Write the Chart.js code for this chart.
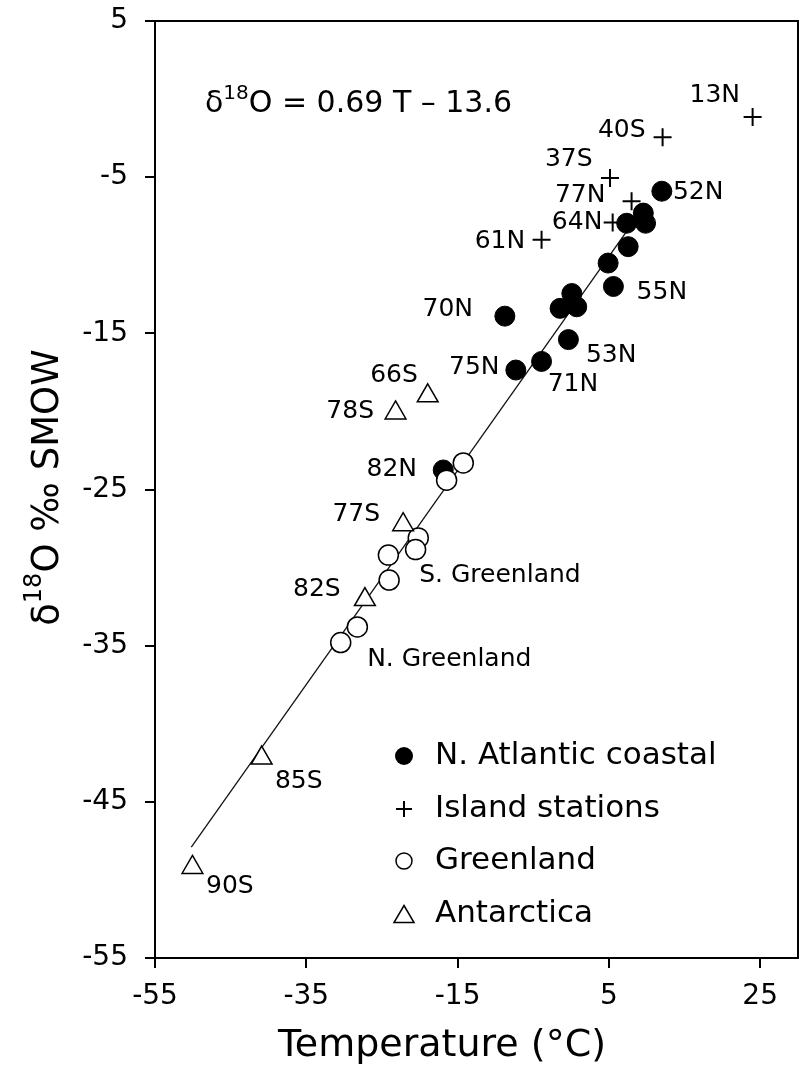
<!DOCTYPE html>
<html>
<head>
<meta charset="utf-8">
<script src="https://cdn.jsdelivr.net/npm/chart.js@4.4.0/dist/chart.umd.min.js"></script>
<style>
  html, body { margin: 0; padding: 0; background: #fff; }
  #wrap { width: 802px; height: 1070px; }
</style>
</head>
<body>
<div id="wrap"><canvas id="isoChart" width="802" height="1070"></canvas></div>
<script>
// Axis ticks
const xTicks = [-55, -35, -15, 5, 25];
const yTicks = [-55, -45, -35, -25, -15, -5, 5];

// N. Atlantic coastal (filled circles): temperature, delta 18O
const coastalT = [12.0, 7.35, 9.55, 9.85, 7.55, 4.9, 5.6, 0.1, -1.45, 0.75, -8.75, -0.35, -3.9, -7.3, -16.9];
const coastalD = [-5.9, -7.95, -7.3, -7.95, -9.45, -10.5, -12.0, -12.45, -13.4, -13.3, -13.9, -15.4, -16.8, -17.35, -23.75];

// Island stations (plus)
const islandT = [24.0, 12.1, 5.15, 8.0, 5.5, -3.9];
const islandD = [-1.15, -2.45, -5.05, -6.55, -7.9, -9.0];

// Greenland (open circles)
const greenlandT = [-14.25, -16.45, -20.2, -20.55, -24.15, -24.05, -28.25, -30.45];
const greenlandD = [-23.3, -24.4, -28.1, -28.85, -29.2, -30.8, -33.8, -34.8];

// Antarctica (triangles)
const antarcticaT = [-18.95, -23.2, -22.2, -27.25, -40.9, -50.05];
const antarcticaD = [-19.0, -20.1, -27.25, -32.05, -42.2, -49.2];

// Regression line end points, as drawn
const fitT = [-50.2, 9.5];
const fitD = [-47.9, -7.0];

// Site labels placed in data units
const siteLabels = [
    { text: '13N', x: 19.0, y: 0.25 },
    { text: '40S', x: 6.7, y: -2.0 },
    { text: '37S', x: -0.3, y: -3.9 },
    { text: '77N', x: 1.2, y: -6.15 },
    { text: '64N', x: 0.8, y: -7.9 },
    { text: '52N', x: 16.8, y: -6.0 },
    { text: '61N', x: -9.4, y: -9.1 },
    { text: '55N', x: 12.0, y: -12.4 },
    { text: '70N', x: -16.3, y: -13.5 },
    { text: '53N', x: 5.3, y: -16.45 },
    { text: '75N', x: -12.8, y: -17.2 },
    { text: '71N', x: 0.25, y: -18.3 },
    { text: '66S', x: -23.4, y: -17.7 },
    { text: '78S', x: -29.2, y: -20.0 },
    { text: '82N', x: -23.7, y: -23.75 },
    { text: '77S', x: -28.4, y: -26.6 },
    { text: 'S. Greenland', x: -9.4, y: -30.5 },
    { text: '82S', x: -33.6, y: -31.4 },
    { text: 'N. Greenland', x: -16.1, y: -35.9 },
    { text: '85S', x: -36.0, y: -43.7 },
    { text: '90S', x: -45.1, y: -50.45 }
];

// text runs with a superscript "18": [text, isSuperscript]
const eqRuns = [['δ', false], ['18', true], ['O = 0.69 T – 13.6', false]];
const equationPos = { x: -48.4, y: -0.3 };
const yTitleRuns = [['δ', false], ['18', true], ['O ‰ SMOW', false]];
const xTitle = 'Temperature (°C)';

const FONT = "'DejaVu Sans', sans-serif";

function zip(xs, ys) {
    return xs.map((v, i) => ({ x: v, y: ys[i] }));
}

// draws runs left to right starting at (x0, y0); returns total width when measureOnly
function drawRuns(ctx, runs, x0, y0, size, supSize, rise, measureOnly) {
    let xx = x0;
    runs.forEach(([txt, sup]) => {
        ctx.font = (sup ? supSize : size) + 'px ' + FONT;
        if (!measureOnly) ctx.fillText(txt, xx, sup ? y0 - rise : y0);
        xx += ctx.measureText(txt).width;
    });
    return xx - x0;
}

function drawMarker(ctx, kind, cx, cy, r) {
    ctx.beginPath();
    ctx.lineWidth = 1.5;
    ctx.strokeStyle = '#000';
    if (kind === 'filled') {
        ctx.arc(cx, cy, r, 0, Math.PI * 2);
        ctx.fillStyle = '#000';
        ctx.fill();
    } else if (kind === 'open') {
        ctx.arc(cx, cy, r, 0, Math.PI * 2);
        ctx.fillStyle = '#fff';
        ctx.fill();
        ctx.stroke();
    } else if (kind === 'plus') {
        ctx.lineWidth = 2;
        ctx.moveTo(cx - r, cy); ctx.lineTo(cx + r, cy);
        ctx.moveTo(cx, cy - r); ctx.lineTo(cx, cy + r);
        ctx.stroke();
    } else if (kind === 'triangle') {
        const h = r * 1.7;
        ctx.moveTo(cx, cy - h / 2);
        ctx.lineTo(cx + r, cy + h / 2);
        ctx.lineTo(cx - r, cy + h / 2);
        ctx.closePath();
        ctx.fillStyle = '#fff';
        ctx.fill();
        ctx.stroke();
    }
}

const overlayPlugin = {
    id: 'overlay',
    afterDatasetsDraw(chart) {
        const { ctx, chartArea: a, scales: { x, y } } = chart;
        ctx.save();

        // plot frame
        ctx.strokeStyle = '#000';
        ctx.lineWidth = 2;
        ctx.strokeRect(a.left, a.top, a.right - a.left, a.bottom - a.top);

        // station labels
        ctx.fillStyle = '#000';
        ctx.font = '25px ' + FONT;
        ctx.textAlign = 'center';
        ctx.textBaseline = 'middle';
        siteLabels.forEach(l => {
            ctx.fillText(l.text, x.getPixelForValue(l.x), y.getPixelForValue(l.y));
        });

        // regression equation
        ctx.textAlign = 'left';
        drawRuns(ctx, eqRuns, x.getPixelForValue(equationPos.x), y.getPixelForValue(equationPos.y), 30, 20, 10);

        // legend, lower right inside the plot
        const rows = [
            { kind: 'filled', r: 9, dy: -202 },
            { kind: 'plus', r: 8, dy: -149 },
            { kind: 'open', r: 8, dy: -97 },
            { kind: 'triangle', r: 10, dy: -44 }
        ];
        ctx.font = '31px ' + FONT;
        rows.forEach((row, i) => {
            const cy = a.bottom + row.dy;
            drawMarker(ctx, row.kind, a.left + 249, cy, row.r);
            ctx.fillStyle = '#000';
            ctx.textAlign = 'left';
            ctx.textBaseline = 'middle';
            ctx.font = '31px ' + FONT;
            ctx.fillText(chart.data.datasets[i].label, a.left + 280, cy);
        });

        // x axis title
        ctx.font = '38px ' + FONT;
        ctx.textAlign = 'center';
        ctx.fillText(xTitle, a.left + 287, a.bottom + 88);

        // y axis title, rotated
        ctx.save();
        ctx.translate(a.left - 107, (a.top + a.bottom) / 2 - 2);
        ctx.rotate(-Math.PI / 2);
        ctx.textAlign = 'left';
        const w = drawRuns(ctx, yTitleRuns, 0, 0, 37, 24, 13, true);
        drawRuns(ctx, yTitleRuns, -w / 2, 0, 37, 24, 13);
        ctx.restore();

        ctx.restore();
    }
};

const ctx = document.getElementById('isoChart');

new Chart(ctx, {
    type: 'scatter',
    data: {
        datasets: [
            {
                label: 'N. Atlantic coastal',
                data: zip(coastalT, coastalD),
                pointStyle: 'circle',
                pointRadius: 10,
                backgroundColor: '#000',
                borderColor: '#000',
                borderWidth: 1,
                order: 4
            },
            {
                label: 'Island stations',
                data: zip(islandT, islandD),
                pointStyle: 'cross',
                pointRadius: 9,
                borderColor: '#000',
                borderWidth: 2,
                order: 3
            },
            {
                label: 'Greenland',
                data: zip(greenlandT, greenlandD),
                pointStyle: 'circle',
                pointRadius: 10,
                backgroundColor: '#fff',
                borderColor: '#000',
                borderWidth: 1.5,
                order: 2
            },
            {
                label: 'Antarctica',
                data: zip(antarcticaT, antarcticaD),
                pointStyle: 'triangle',
                pointRadius: 12,
                backgroundColor: '#fff',
                borderColor: '#000',
                borderWidth: 1.5,
                order: 1
            },
            {
                label: 'fit',
                data: zip(fitT, fitD),
                showLine: true,
                pointRadius: 0,
                borderColor: '#111',
                borderWidth: 1.3,
                fill: false,
                order: 5
            }
        ]
    },
    options: {
        responsive: false,
        animation: false,
        events: [],
        layout: { autoPadding: false, padding: { top: 21, right: 4, left: 0, bottom: 0 } },
        font: { family: FONT },
        plugins: {
            legend: { display: false },
            tooltip: { enabled: false }
        },
        scales: {
            x: {
                type: 'linear',
                min: -55,
                max: 30,
                afterBuildTicks: s => { s.ticks = xTicks.map(v => ({ value: v })); },
                afterFit: s => {
                    s.height = 112;
                    s.paddingLeft = 0;
                    s.paddingRight = 0;
                },
                grid: { drawOnChartArea: false, drawTicks: true, tickLength: 10, color: '#000', lineWidth: 2 },
                border: { display: true, color: '#000', width: 2 },
                ticks: {
                    color: '#000',
                    padding: 12,
                    maxRotation: 0,
                    font: { family: FONT, size: 28 }
                }
            },
            y: {
                type: 'linear',
                min: -55,
                max: 5,
                afterBuildTicks: s => { s.ticks = yTicks.map(v => ({ value: v })); },
                afterFit: s => {
                    s.width = 155;
                    s.paddingTop = 0;
                    s.paddingBottom = 0;
                },
                grid: { drawOnChartArea: false, drawTicks: true, tickLength: 10, color: '#000', lineWidth: 2 },
                border: { display: true, color: '#000', width: 2 },
                ticks: {
                    color: '#000',
                    padding: 17,
                    font: { family: FONT, size: 28 }
                }
            }
        }
    },
    plugins: [overlayPlugin]
});
</script>
</body>
</html>
